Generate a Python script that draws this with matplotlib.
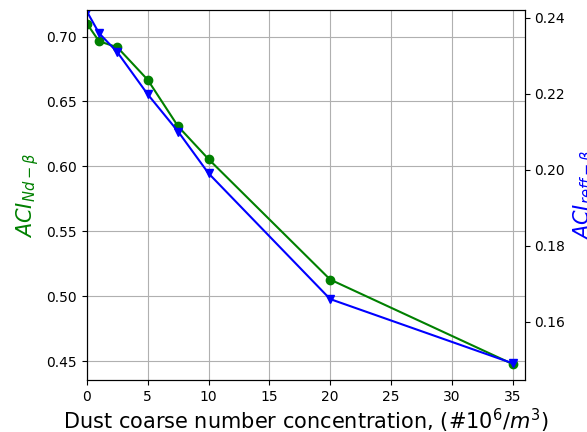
import matplotlib.pyplot as plt

# dust coarse number concentration (#10^6/m^3)
conc = [0, 1, 2.5, 5, 7.5, 10, 20, 35]
aci_nd = [0.710, 0.6964, 0.6918, 0.6667, 0.6308, 0.6056, 0.5128, 0.4477]
aci_reff = [0.2417, 0.2360, 0.2310, 0.2199, 0.2101, 0.1991, 0.1660, 0.1491]

fig = plt.figure(figsize=(5.87, 4.32), dpi=100)
ax = fig.add_axes([0.148, 0.1204, 0.746, 0.8565])

ax.plot(conc, aci_nd, color="green", marker="o")
ax.set_xlim(0, 36)
ax.set_ylim(0.4354, 0.7205)
ax.set_ylabel(r"$ACI_{Nd-\beta}$", color="green", fontsize=15)
ax.set_xlabel(r"Dust coarse number concentration, $(\#10^6/m^3)$", fontsize=15, labelpad=2)
ax.grid(True)

ax2 = ax.twinx()
ax2.plot(conc, aci_reff, color="blue", marker="v")
ax2.set_ylim(0.1447, 0.2421)
# label sits partly outside the figure, as in the original
ax2.set_ylabel(r"$ACI_{reff-\beta}$", color="blue", fontsize=15)

fig.savefig("out.png", dpi=100)
